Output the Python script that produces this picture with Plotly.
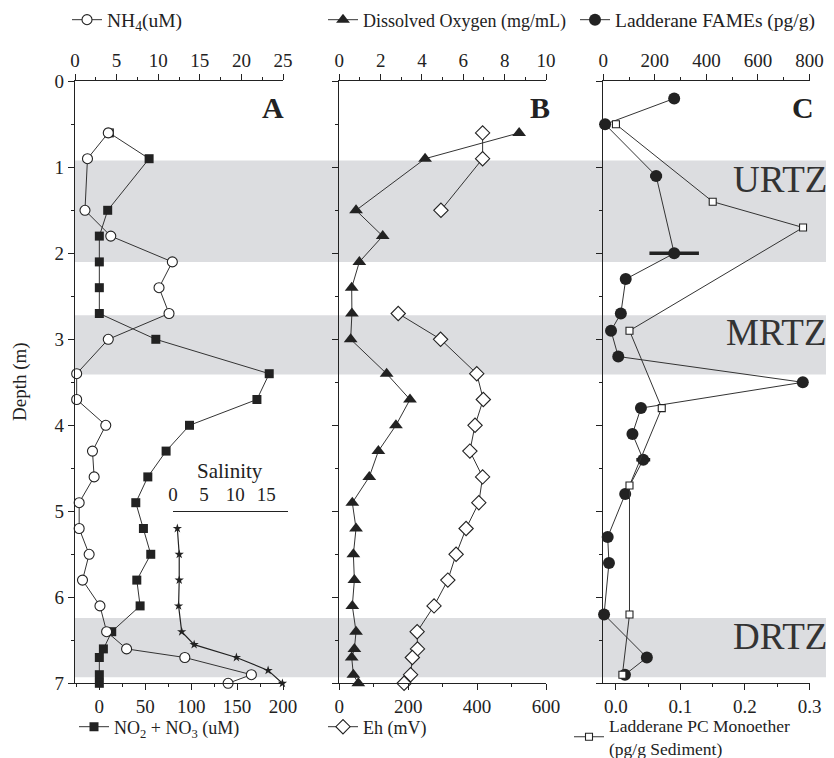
import plotly.graph_objects as go

# page body has an 8px margin, so the figure is laid out in page pixels minus 8
OFF = 8
W, H = 834 - OFF, 758 - OFF
def X(px): return (px - OFF) / W
def Y(py): return 1 - (py - OFF) / H

# ---------------- data ----------------
nh4_depth = [0.6, 0.9, 1.5, 1.8, 2.1, 2.4, 2.7, 3.0, 3.4, 3.7, 4.0, 4.3, 4.6, 4.9, 5.2, 5.5, 5.8, 6.1, 6.4, 6.6, 6.7, 6.9, 7.0]
nh4 = [4.0, 1.5, 1.2, 4.3, 11.7, 10.1, 11.3, 4.0, 0.2, 0.2, 3.7, 2.1, 2.3, 0.5, 0.5, 1.7, 0.9, 3.0, 3.8, 6.2, 13.2, 21.2, 18.4]

nox_depth = [0.6, 0.9, 1.5, 1.8, 2.1, 2.4, 2.7, 3.0, 3.4, 3.7, 4.0, 4.3, 4.6, 4.9, 5.2, 5.5, 5.8, 6.1, 6.4, 6.6, 6.7, 6.9, 7.0]
nox = [10.9, 54.2, 9.1, 0, 0, 0, 0, 61.5, 185, 171.6, 98.2, 72.7, 52.8, 39.7, 48, 56, 40.8, 44.4, 13.5, 4.4, 0, 0, 0]

sal_depth = [5.2, 5.5, 5.8, 6.1, 6.4, 6.55, 6.7, 6.85, 7.0]
salinity = [0.7, 1.0, 1.0, 0.9, 1.4, 3.4, 10.2, 15.3, 17.6]

do_depth = [0.6, 0.9, 1.5, 1.8, 2.1, 2.4, 2.7, 3.0, 3.4, 3.7, 4.0, 4.3, 4.6, 4.9, 5.2, 5.5, 5.8, 6.1, 6.4, 6.6, 6.7, 6.9, 7.0]
do = [8.7, 4.15, 0.81, 2.1, 0.97, 0.6, 0.61, 0.55, 2.29, 3.42, 2.74, 1.89, 1.45, 0.63, 0.81, 0.68, 0.73, 0.63, 0.81, 0.73, 0.6, 0.68, 0.92]

eh_depth = [0.6, 0.9, 1.5, 2.1, 2.7, 3.0, 3.4, 3.7, 4.0, 4.3, 4.6, 4.9, 5.2, 5.5, 5.8, 6.1, 6.4, 6.6, 6.7, 6.9, 7.0]
eh = [416, 416, 295, None, 171, 294, 399, 418, 394, 379, 416, 405, 368, 339, 315, 275, 226, 227, 212, 207, 188]

fame_depth = [0.2, 0.5, 1.1, 2.0, 2.3, 2.7, 2.9, 3.2, 3.5, 3.8, 4.1, 4.4, 4.8, 5.3, 5.6, 6.2, 6.7, 6.9]
fame = [275, 7, 205, 275, 87, 68, 30, 58, 774, 146, 113, 155, 85, 17, 22, 3, 169, 84]
fame_err = [0, 0, 23, 96, 0, 0, 0, 0, 0, 0, 0, 27, 0, 0, 0, 0, 0, 0]

pc_depth = [0.5, 1.4, 1.7, 2.9, 3.8, 4.7, 6.2, 6.9]
pc = [0.0, 0.150, 0.290, 0.021, 0.071, 0.021, 0.021, 0.010]

zones = [("URTZ", 0.92, 2.10), ("MRTZ", 2.72, 3.41), ("DRTZ", 6.24, 6.93)]
zone_label_depth = [1.14, 2.92, 6.46]

FONT = "Liberation Serif"
INK = "#222222"
LINE = dict(color="#333333", width=1)

fig = go.Figure()

fig.add_trace(go.Scatter(x=nox, y=nox_depth, xaxis="x", yaxis="y", mode="lines+markers",
                         name="NO<sub>2</sub> + NO<sub>3</sub> (uM)", legend="legend4",
                         line=LINE, marker=dict(symbol="square", size=9, color=INK), cliponaxis=False))
fig.add_trace(go.Scatter(x=nh4, y=nh4_depth, xaxis="x2", yaxis="y", mode="lines+markers",
                         name="NH<sub>4</sub>(uM)", legend="legend",
                         line=LINE, marker=dict(symbol="circle", size=10, color="white",
                                                line=dict(color=INK, width=1.1)), cliponaxis=False))
fig.add_trace(go.Scatter(x=salinity, y=sal_depth, xaxis="x7", yaxis="y", mode="lines+markers",
                         showlegend=False, line=dict(color="#222", width=1.2),
                         marker=dict(symbol="star", size=7, color=INK), cliponaxis=False))
fig.add_trace(go.Scatter(x=eh, y=eh_depth, xaxis="x3", yaxis="y2", mode="lines+markers",
                         name="Eh (mV)", legend="legend5", connectgaps=False,
                         line=LINE, marker=dict(symbol="diamond", size=11, color="white",
                                                line=dict(color=INK, width=1.1)), cliponaxis=False))
fig.add_trace(go.Scatter(x=do, y=do_depth, xaxis="x4", yaxis="y2", mode="lines+markers",
                         name="Dissolved Oxygen (mg/mL)", legend="legend2",
                         line=LINE, marker=dict(symbol="triangle-up", size=12, color=INK), cliponaxis=False))
fig.add_trace(go.Scatter(x=fame, y=fame_depth, xaxis="x5", yaxis="y3", mode="lines+markers",
                         name="Ladderane FAMEs (pg/g)", legend="legend3",
                         error_x=dict(type="data", array=fame_err, visible=True, color=INK, thickness=3.5, width=0),
                         line=LINE, marker=dict(symbol="circle", size=12, color=INK), cliponaxis=False))
fig.add_trace(go.Scatter(x=pc, y=pc_depth, xaxis="x6", yaxis="y3", mode="lines+markers",
                         name="Ladderane PC Monoether<br>(pg/g Sediment)", legend="legend6",
                         line=LINE, marker=dict(symbol="square", size=7, color="white",
                                                line=dict(color=INK, width=1.1)), cliponaxis=False))

tickfont = dict(family=FONT, size=19, color=INK)
def axis(**kw):
    d = dict(showline=True, linecolor=INK, linewidth=1.3, ticks="outside", ticklen=6, tickwidth=1.2,
             tickcolor=INK, showgrid=False, zeroline=False, tickfont=tickfont, fixedrange=True,
             automargin=False)
    d.update(kw)
    return d

def minor(dt):
    return dict(dtick=dt, ticks="outside", ticklen=3, tickwidth=1.2, tickcolor=INK, showgrid=False)

A = [X(75), X(283)]
B = [X(339.3), X(546)]
C = [X(603.3), X(809.5)]
YD = [Y(683.3), Y(81.3)]

fig.update_layout(
    width=W, height=H, margin=dict(l=0, r=0, t=0, b=0, autoexpand=False),
    paper_bgcolor="white", plot_bgcolor="rgba(0,0,0,0)",
    font=dict(family=FONT, color=INK, size=18),
    xaxis=axis(domain=A, anchor="y", side="bottom", range=[-26.5, 200], tickvals=[0, 50, 100, 150, 200],
               minor=minor(25), ticklabelstandoff=0),
    xaxis2=axis(domain=A, anchor="y", overlaying="x", side="top", range=[0, 25], dtick=5, tick0=0,
                minor=minor(2.5), ticklabelstandoff=0),
    xaxis3=axis(domain=B, anchor="y2", side="bottom", range=[0, 600], dtick=200, tick0=0,
                minor=minor(100), ticklabelstandoff=0),
    xaxis4=axis(domain=B, anchor="y2", overlaying="x3", side="top", range=[0, 10], dtick=2, tick0=0,
                minor=minor(1), ticklabelstandoff=0),
    xaxis5=axis(domain=C, anchor="y3", side="top", range=[0, 800], dtick=200, tick0=0,
                minor=minor(100), ticklabelstandoff=0),
    xaxis6=axis(domain=C, anchor="y3", overlaying="x5", side="bottom", range=[-0.0196, 0.3],
                tickvals=[0, 0.1, 0.2, 0.3], ticktext=["0.0", "0.1", "0.2", "0.3"],
                minor=dict(tickvals=[0.05, 0.15, 0.25], ticks="outside", ticklen=3, tickwidth=1.2, tickcolor=INK),
                ticklabelstandoff=0),
    xaxis7=axis(domain=[X(173), X(288)], anchor="free", position=Y(510.7), side="top", range=[0, 18.5],
                tickvals=[0, 5, 10, 15], ticks="", linewidth=1.2, ticklabelstandoff=2),
    yaxis=axis(domain=YD, anchor="x", range=[7, 0], dtick=1, tick0=0, minor=minor(0.5)),
    yaxis2=axis(domain=YD, anchor="x3", range=[7, 0], dtick=1, tick0=0, minor=minor(0.5), showticklabels=False),
    yaxis3=axis(domain=YD, anchor="x5", range=[7, 0], dtick=1, tick0=0, minor=minor(0.5), showticklabels=False),
)

leg = dict(bgcolor="rgba(0,0,0,0)", font=dict(family=FONT, size=18, color=INK),
           xanchor="left", yanchor="middle", itemclick=False, itemdoubleclick=False)
fig.update_layout(
    legend=dict(leg, x=X(67), y=Y(20), font=dict(family=FONT, size=19.5, color=INK)),
    legend2=dict(leg, x=X(323), y=Y(20)),
    legend3=dict(leg, x=X(575), y=Y(20), font=dict(family=FONT, size=19.5, color=INK)),
    legend4=dict(leg, x=X(74), y=Y(727)),
    legend5=dict(leg, x=X(323), y=Y(727)),
    legend6=dict(leg, x=X(569), y=Y(737), font=dict(family=FONT, size=17.5, color=INK)),
)

shapes = []
for name, d0, d1 in zones:
    shapes.append(dict(type="rect", xref="paper", yref="y", x0=X(75), x1=1, y0=d0, y1=d1,
                       fillcolor="#dcdde0", line=dict(width=0), layer="below"))
fig.update_layout(shapes=shapes)

def note(text, px, py, size, **kw):
    d = dict(text=text, x=X(px), y=Y(py), xref="paper", yref="paper", showarrow=False,
             xanchor="center", yanchor="middle", font=dict(family=FONT, size=size, color=INK))
    d.update(kw)
    return d

ann = [
    note("Depth (m)", 20, 382, 19, textangle=-90),
    note("<b>A</b>", 273, 108, 30),
    note("<b>B</b>", 540, 108, 30),
    note("<b>C</b>", 803, 108, 30),
    note("Salinity", 230, 471, 21),
]
for (name, d0, d1), ld in zip(zones, zone_label_depth):
    ann.append(dict(text=name, x=X(829), y=ld, xref="paper", yref="y", xanchor="right", yanchor="middle",
                    showarrow=False, font=dict(family=FONT, size=37, color="#333333")))
fig.update_layout(annotations=ann)

fig.write_html("out.html")
